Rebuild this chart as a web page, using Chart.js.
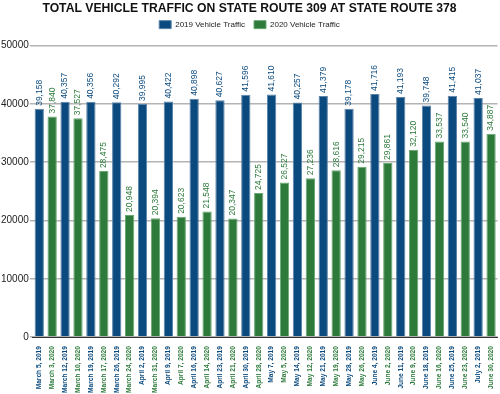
<!DOCTYPE html>
<html>
<head>
<meta charset="utf-8">
<script src="https://cdn.jsdelivr.net/npm/chart.js@4"></script>
<style>
  html, body { margin: 0; padding: 0; background: #fff; }
  #wrap { width: 500px; height: 394px; }
</style>
</head>
<body>
<div id="wrap"><canvas id="traffic-chart"></canvas></div>
<script>
const dates2019 = ['March 5, 2019', 'March 12, 2019', 'March 19, 2019', 'March 26, 2019', 'April 2, 2019', 'April 9, 2019',
    'April 16, 2019', 'April 23, 2019', 'April 30, 2019', 'May 7, 2019', 'May 14, 2019', 'May 21, 2019',
    'May 28, 2019', 'June 4, 2019', 'June 11, 2019', 'June 18, 2019', 'June 25, 2019', 'July 2, 2019'];
const dates2020 = ['March 3, 2020', 'March 10, 2020', 'March 17, 2020', 'March 24, 2020', 'March 31, 2020', 'April 7, 2020',
    'April 14, 2020', 'April 21, 2020', 'April 28, 2020', 'May 5, 2020', 'May 12, 2020', 'May 19, 2020',
    'May 26, 2020', 'June 2, 2020', 'June 9, 2020', 'June 16, 2020', 'June 23, 2020', 'June 30, 2020'];
const traffic2019 = [39158, 40357, 40356, 40292, 39995, 40422, 40898, 40627, 41596, 41610, 40257, 41379,
    39178, 41716, 41193, 39748, 41415, 41037];
const traffic2020 = [37840, 37527, 28475, 20948, 20394, 20623, 21548, 20347, 24725, 26527, 27236, 28616,
    29215, 29861, 32120, 33537, 33540, 34887];
const yTicks = [0, 10000, 20000, 30000, 40000, 50000];

const blue = '#0b4a7e';
const green = '#2d7a3b';
const font = 'Arial, "Liberation Sans", sans-serif';

// one category per bar: 2019 week then 2020 week
let labels = [];
let data2019 = [];
let data2020 = [];
dates2019.forEach((d, i) => {
    labels.push(d, dates2020[i]);
    data2019.push(traffic2019[i], null);
    data2020.push(null, traffic2020[i]);
});

const valueLabels = {
    id: 'valueLabels',
    afterDatasetsDraw(chart) {
        const ctx = chart.ctx;
        ctx.save();
        ctx.font = '8.5px ' + font;
        ctx.textAlign = 'left';
        ctx.textBaseline = 'middle';
        chart.data.datasets.forEach((ds, di) => {
            const meta = chart.getDatasetMeta(di);
            meta.data.forEach((bar, i) => {
                const v = ds.data[i];
                if (v == null) return;
                ctx.save();
                ctx.translate(bar.x, bar.y - 3);
                ctx.rotate(-Math.PI / 2);
                ctx.fillStyle = ds.backgroundColor;
                ctx.fillText(v.toLocaleString('en-US'), 0, 0);
                ctx.restore();
            });
        });
        ctx.restore();
    }
};

// extra room under the legend
const legendGap = {
    id: 'legendGap',
    beforeInit(chart) {
        const fit = chart.legend.fit;
        chart.legend.fit = function() {
            fit.bind(chart.legend)();
            this.height += 7;
        };
    }
};

const trafficChart = new Chart(document.getElementById('traffic-chart'), {
    type: 'bar',
    data: {
        labels: labels,
        datasets: [
            {
                label: '2019 Vehicle Traffic',
                data: data2019,
                backgroundColor: blue,
                borderColor: '#5c84a8',
                borderWidth: 1,
            },
            {
                label: '2020 Vehicle Traffic',
                data: data2020,
                backgroundColor: green,
                borderColor: '#6aa872',
                borderWidth: 1,
            }
        ]
    },
    options: {
        responsive: true,
        maintainAspectRatio: false,
        animation: false,
        grouped: false,
        categoryPercentage: 1,
        barPercentage: 0.72,
        layout: { padding: { left: 0, right: 1, top: 0, bottom: 0 } },
        plugins: {
            title: {
                display: true,
                text: 'TOTAL VEHICLE TRAFFIC ON STATE ROUTE 309 AT STATE ROUTE 378',
                color: '#111',
                font: { family: font, size: 12.2, weight: 'bold' },
                padding: { top: 1, bottom: -4 }
            },
            legend: {
                position: 'top',
                labels: {
                    boxWidth: 12,
                    boxHeight: 8,
                    color: '#222',
                    font: { family: font, size: 8 },
                    padding: 9
                }
            },
            tooltip: { enabled: false }
        },
        scales: {
            x: {
                grid: { display: false },
                border: { display: true, color: '#333', width: 1 },
                ticks: {
                    autoSkip: false,
                    maxRotation: 90,
                    minRotation: 90,
                    padding: 1,
                    color: (c) => c.index % 2 == 0 ? blue : green,
                    font: { family: font, size: 6.6, weight: 'bold' }
                }
            },
            y: {
                min: 0,
                max: 50000,
                afterBuildTicks: (axis) => { axis.ticks = yTicks.map(v => ({ value: v })); },
                grid: { color: '#b4b4b4', lineWidth: 1.5, drawTicks: true, tickLength: 3 },
                border: { display: false },
                ticks: {
                    color: '#222',
                    padding: 1,
                    callback: (v) => String(v),
                    font: { family: font, size: 10 }
                }
            }
        }
    },
    plugins: [valueLabels, legendGap]
});
</script>
</body>
</html>
